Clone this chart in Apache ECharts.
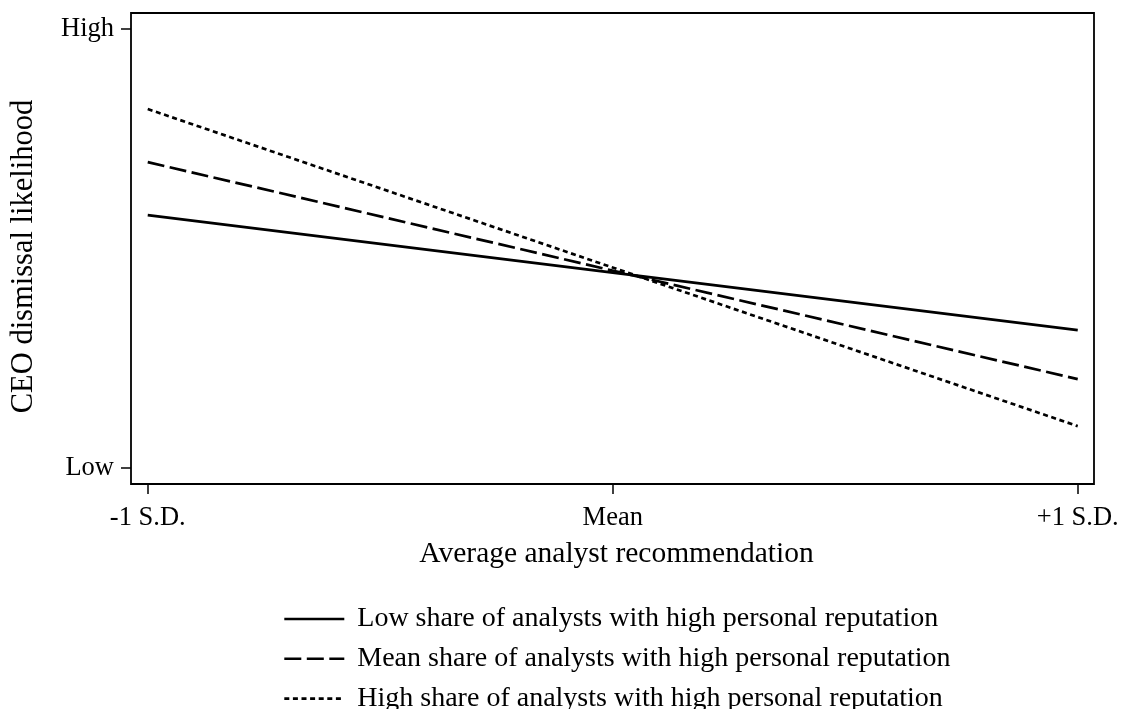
<!DOCTYPE html>
<html>
<head>
<meta charset="utf-8">
<script src="https://cdn.jsdelivr.net/npm/echarts@6/dist/echarts.min.js"></script>
<style>
html,body{margin:0;padding:0;background:#fff;}
#chart{width:1123px;height:709px;}
</style>
</head>
<body>
<div id="chart"></div>
<script>
// X positions: -1 S.D., Mean, +1 S.D.
const xValues = [-1, 1];
const xTickValues = [-1, 0, 1];
const xTickLabels = {'-1': '-1 S.D.', '0': 'Mean', '1': '+1 S.D.'};
const yTickValues = [0, 1];
const yTickLabels = {'0': 'Low', '1': 'High'};
// Predicted dismissal likelihood (0 = Low, 1 = High) at -1 S.D. and +1 S.D.
const lowShare = [0.576, 0.314];
const meanShare = [0.697, 0.202];
const highShare = [0.818, 0.095];
const seriesNames = [
  'Low share of analysts with high personal reputation',
  'Mean share of analysts with high personal reputation',
  'High share of analysts with high personal reputation'
];

const font = '"Liberation Serif", "Times New Roman", serif';
const chart = echarts.init(document.getElementById('chart'));

function mk(name, vals, type) {
  return {
    name: name,
    type: 'line',
    data: xValues.map((x, i) => [x, vals[i]]),
    symbol: 'none',
    showSymbol: false,
    silent: true,
    lineStyle: { color: '#000', width: 2.7, type: type, dashOffset: 0, cap: 'butt' },
    itemStyle: { color: '#000', opacity: 0 },
    animation: false
  };
}

const s1 = mk(seriesNames[0], lowShare, 'solid');
const s2 = mk(seriesNames[1], meanShare, [17, 5.5]);
const s3 = mk(seriesNames[2], highShare, [5, 3.6]);

chart.setOption({
  backgroundColor: '#fff',
  animation: false,
  grid: {
    left: 130, right: 29, top: 13, bottom: 225,
    show: true, borderColor: '#000', borderWidth: 1.8, backgroundColor: '#fff'
  },
  xAxis: {
    type: 'value',
    min: -1.036, max: 1.035,
    splitLine: { show: false },
    axisLine: { show: false, onZero: false },
    axisTick: { show: true, inside: false, length: 10, customValues: xTickValues, lineStyle: { color: '#000', width: 1.5 } },
    axisLabel: {
      customValues: xTickValues,
      formatter: v => xTickLabels[String(Math.round(v))],
      color: '#000', fontFamily: font, fontSize: 26.5, margin: 21
    },
    name: 'Average analyst recommendation',
    nameLocation: 'middle',
    nameGap: 55,
    nameTextStyle: { color: '#000', fontFamily: font, fontSize: 29.5, padding: [0, 0, 0, 8] }
  },
  yAxis: {
    type: 'value',
    min: -0.037, max: 1.037,
    splitLine: { show: false },
    axisLine: { show: false, onZero: false },
    axisTick: { show: true, inside: false, length: 10, customValues: yTickValues, lineStyle: { color: '#000', width: 1.5 } },
    axisLabel: {
      customValues: yTickValues,
      formatter: v => yTickLabels[String(Math.round(v))],
      color: '#000', fontFamily: font, fontSize: 26.5, margin: 17
    },
    name: 'CEO dismissal likelihood',
    nameLocation: 'middle',
    nameGap: 92,
    nameTextStyle: { color: '#000', fontFamily: font, fontSize: 30.5, padding: [0, 16, 0, 0] }
  },
  legend: {
    orient: 'vertical',
    left: 283,
    top: 605,
    height: 200,
    padding: 0,
    itemWidth: 60,
    itemHeight: 14,
    itemGap: 11.8,
    selectedMode: false,
    itemStyle: { opacity: 0 },
    lineStyle: { width: 2.6 },
    textStyle: { color: '#000', fontFamily: font, fontSize: 28, lineHeight: 26, padding: [0, 0, 0, 8] },
    data: seriesNames
  },
  series: [s1, s2, s3]
});
</script>
</body>
</html>
